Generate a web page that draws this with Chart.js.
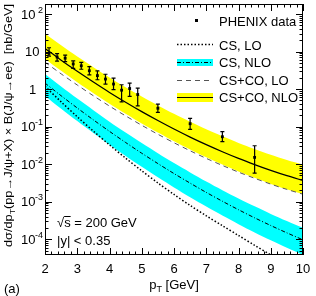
<!DOCTYPE html>
<html>
<head>
<meta charset="utf-8">
<script src="https://cdn.jsdelivr.net/npm/chart.js@4.4.1/dist/chart.umd.min.js"></script>
<style>
  html, body { margin: 0; padding: 0; background: #fff; }
  #wrap { width: 316px; height: 296px; }
</style>
</head>
<body>
<div id="wrap"><canvas id="c" width="316" height="296"></canvas></div>
<script>
// theory curves, sampled on this pT grid
const ptGrid = [2, 2.5, 3, 3.5, 4, 4.5, 5, 5.5, 6, 6.5, 7, 7.5, 8, 8.5, 9, 9.5, 10]
const csLO = [1.19, 0.459, 0.184, 0.0761, 0.0327, 0.0145, 0.00667, 0.00317, 0.00156, 0.000797, 0.000421, 0.00023, 0.000126, 0.0000690, 0.0000385, 0.0000225, 0.0000135]
const csNLO = [1.45, 0.668, 0.315, 0.152, 0.075, 0.0379, 0.0196, 0.0104, 0.00563, 0.00313, 0.00177, 0.00103, 0.000612, 0.000372, 0.000232, 0.000148, 0.0000964]
const csNLOHi = [2.52, 1.17, 0.56, 0.274, 0.136, 0.0698, 0.0366, 0.0196, 0.0107, 0.00603, 0.00346, 0.00203, 0.00122, 0.000752, 0.000473, 0.000305, 0.000201]
const csNLOLo = [0.662, 0.302, 0.141, 0.0678, 0.0331, 0.0166, 0.00852, 0.00448, 0.0024, 0.00132, 0.000744, 0.000429, 0.000252, 0.000152, 0.0000939, 0.0000594, 0.0000384]
const cscoLO = [5.25, 2.56, 1.29, 0.667, 0.354, 0.194, 0.109, 0.0628, 0.0373, 0.0228, 0.0143, 0.00927, 0.00615, 0.00422, 0.00295, 0.00213, 0.00159]
const cscoNLO = [12.2, 5.94, 2.99, 1.55, 0.82, 0.449, 0.252, 0.146, 0.0865, 0.0528, 0.0332, 0.0215, 0.01426, 0.00977, 0.00684, 0.00494, 0.00369]
const cscoNLOHi = [29.9, 14.7, 7.40, 3.85, 2.05, 1.12, 0.634, 0.368, 0.22, 0.135, 0.0851, 0.0553, 0.0369, 0.0254, 0.0178, 0.0129, 0.0097]
const cscoNLOLo = [6.38, 3.08, 1.53, 0.78, 0.409, 0.221, 0.122, 0.0698, 0.0409, 0.0247, 0.0153, 0.00977, 0.0064, 0.00434, 0.00299, 0.00214, 0.00157]

// PHENIX data points
const phenixPt = [2.125, 2.375, 2.625, 2.875, 3.125, 3.375, 3.625, 3.875, 4.125, 4.375, 4.625, 4.875, 5.5, 6.5, 7.5, 8.5]
const phenixY = [9.0, 7.2, 6.7, 4.7, 4.2, 3.1, 2.3, 1.86, 1.37, 0.94, 1.04, 0.72, 0.31, 0.12, 0.054, 0.0152]
const phenixHi = [12.7, 8.9, 8.1, 5.7, 5.2, 4.0, 3.07, 2.5, 1.96, 1.31, 1.45, 1.07, 0.40, 0.167, 0.074, 0.031]
const phenixLo = [7.6, 5.6, 5.4, 3.6, 3.4, 2.4, 1.78, 1.36, 0.97, 0.46, 0.645, 0.36, 0.24, 0.085, 0.040, 0.0058]

// axis ticks
const xTickLabels = [2, 3, 4, 5, 6, 7, 8, 9, 10]
const yDecades = [-4, -3, -2, -1, 0, 1, 2]

const FONT = '"Liberation Sans", Arial, Helvetica, sans-serif'
const YELLOW = "#ffff00"
const CYAN = "#00ffff"

const pts = (ys) => ys.map((v, i) => ({ x: ptGrid[i], y: v }))

function curve(data, extra) {
  return Object.assign({
    data: pts(data),
    pointRadius: 0,
    borderWidth: 0,
    fill: false,
    tension: 0.3
  }, extra)
}

// draw a run of text pieces ({t, s, dy}) starting at x on baseline y
function drawParts(ctx, parts, x, y) {
  parts.forEach((p) => {
    ctx.font = p.s + "px " + FONT
    ctx.fillText(p.t, x, y + (p.dy || 0))
    x += ctx.measureText(p.t).width
  })
  return x
}

function partsWidth(ctx, parts) {
  let w = 0
  parts.forEach((p) => {
    ctx.font = p.s + "px " + FONT
    w += ctx.measureText(p.t).width
  })
  return w
}

const rootStyle = {
  id: "rootStyle",
  afterDatasetsDraw(chart) {
    const { ctx, scales: { x, y } } = chart
    ctx.save()
    ctx.strokeStyle = "#000"
    ctx.lineWidth = 1.2
    phenixPt.forEach((pt, i) => {
      const px = x.getPixelForValue(pt)
      const y1 = y.getPixelForValue(phenixLo[i])
      const y2 = y.getPixelForValue(phenixHi[i])
      ctx.beginPath()
      ctx.moveTo(px, y1); ctx.lineTo(px, y2)
      ctx.moveTo(px - 2, y1); ctx.lineTo(px + 2, y1)
      ctx.moveTo(px - 2, y2); ctx.lineTo(px + 2, y2)
      ctx.stroke()
    })
    ctx.restore()
  },
  afterDraw(chart) {
    const { ctx, chartArea: a, scales: { x, y } } = chart
    ctx.save()
    ctx.strokeStyle = "#000"
    ctx.fillStyle = "#000"
    ctx.lineWidth = 1

    // frame
    ctx.strokeRect(a.left + 0.5, a.top + 0.5, a.right - a.left - 1, a.bottom - a.top - 1)

    // x ticks, inward on bottom and top
    ctx.beginPath()
    for (let v = 2; v <= 10.001; v += 0.2) {
      const px = Math.round(x.getPixelForValue(v)) + 0.5
      const major = Math.abs(v - Math.round(v)) < 0.01
      const len = major ? 7 : 3.5
      ctx.moveTo(px, a.bottom); ctx.lineTo(px, a.bottom - len)
      ctx.moveTo(px, a.top); ctx.lineTo(px, a.top + len)
    }
    // y ticks, log, inward on left and right
    for (let d = -5; d <= 2; d++) {
      for (let m = 1; m <= 9; m++) {
        const val = m * Math.pow(10, d)
        if (val < y.min || val > y.max) continue
        const py = Math.round(y.getPixelForValue(val)) + 0.5
        const len = m === 1 ? 7 : 3.5
        ctx.moveTo(a.left, py); ctx.lineTo(a.left + len, py)
        ctx.moveTo(a.right, py); ctx.lineTo(a.right - len, py)
      }
    }
    ctx.stroke()

    // x tick labels
    ctx.font = "13px " + FONT
    ctx.textAlign = "center"
    ctx.textBaseline = "alphabetic"
    xTickLabels.forEach((v) => {
      ctx.fillText(String(v), x.getPixelForValue(v), 273)
    })

    // y tick labels
    ctx.textAlign = "left"
    yDecades.forEach((d) => {
      const py = y.getPixelForValue(Math.pow(10, d))
      const base = py + 4.5
      ctx.font = "13px " + FONT
      if (d === 0) {
        ctx.fillText("1", 29, base)
      } else if (d === 1) {
        ctx.fillText("10", 25, base)
      } else {
        ctx.fillText("10", 21, base)
        ctx.font = "9px " + FONT
        const e = String(d)
        const ew = ctx.measureText(e).width
        ctx.fillText(e, 43 - ew, base - 6)
      }
    })

    // x axis title
    const xt = [{ t: "p", s: 13 }, { t: "T", s: 9, dy: 2.5 }, { t: " [GeV]", s: 13 }]
    drawParts(ctx, xt, (a.left + a.right) / 2 - partsWidth(ctx, xt) / 2, 289)

    // y axis title, rotated, ending near the top
    ctx.save()
    ctx.translate(12, 4)
    ctx.rotate(-Math.PI / 2)
    const yt = [
      { t: "dσ/dp", s: 11.5 },
      { t: "T", s: 8, dy: 2.5 },
      { t: "(pp→J/ψ+X) × B(J/ψ→ee)  [nb/GeV]", s: 11.5 }
    ]
    const yw = partsWidth(ctx, yt)
    const k = 243 / yw
    ctx.scale(k, 1)
    drawParts(ctx, yt, -yw, 0)
    ctx.restore()

    // panel label
    ctx.font = "13px " + FONT
    ctx.fillText("(a)", 4, 293)

    // energy and rapidity notes
    ctx.fillText("√s = 200 GeV", 57, 227)
    const sx = 57 + ctx.measureText("√").width
    const sw = ctx.measureText("s").width
    ctx.beginPath()
    ctx.moveTo(sx, 216.5); ctx.lineTo(sx + sw, 216.5)
    ctx.stroke()
    ctx.fillText("|y| < 0.35", 57, 245)

    // legend
    const lx0 = 177, lx1 = 213, tx = 219
    ctx.fillRect(195, 19, 3, 3)
    ctx.fillText("PHENIX data", tx, 25.5)

    ctx.lineWidth = 1.5
    ctx.setLineDash([1.5, 2])
    ctx.beginPath(); ctx.moveTo(lx0, 44.5); ctx.lineTo(lx1, 44.5); ctx.stroke()
    ctx.fillText("CS, LO", tx, 49.5)

    ctx.fillStyle = CYAN
    ctx.fillRect(lx0, 59, lx1 - lx0, 7)
    ctx.fillStyle = "#000"
    ctx.lineWidth = 1
    ctx.setLineDash([4, 2, 1, 2])
    ctx.beginPath(); ctx.moveTo(lx0, 62.5); ctx.lineTo(lx1, 62.5); ctx.stroke()
    ctx.fillText("CS, NLO", tx, 67)

    ctx.strokeStyle = "#555"
    ctx.setLineDash([5, 4])
    ctx.beginPath(); ctx.moveTo(lx0, 80.5); ctx.lineTo(lx1, 80.5); ctx.stroke()
    ctx.fillText("CS+CO, LO", tx, 85)

    ctx.fillStyle = YELLOW
    ctx.fillRect(lx0, 93, lx1 - lx0, 9)
    ctx.fillStyle = "#000"
    ctx.strokeStyle = "#000"
    ctx.setLineDash([])
    ctx.lineWidth = 1.2
    ctx.beginPath(); ctx.moveTo(lx0, 97.5); ctx.lineTo(lx1, 97.5); ctx.stroke()
    ctx.fillText("CS+CO, NLO", tx, 102)

    ctx.restore()
  }
}

new Chart(document.getElementById("c"), {
  type: "line",
  data: {
    datasets: [
      {
        data: phenixPt.map((p, i) => ({ x: p, y: phenixY[i] })),
        showLine: false,
        pointStyle: "rect",
        pointRadius: 2,
        backgroundColor: "#000",
        borderColor: "#000",
        borderWidth: 0,
        order: 0
      },
      curve(cscoNLO, { borderColor: "#000", borderWidth: 1.2, order: 1 }),
      curve(cscoLO, { borderColor: "#555", borderWidth: 1, borderDash: [5, 4], order: 2 }),
      curve(csNLO, { borderColor: "#000", borderWidth: 1, borderDash: [4, 2, 1, 2], order: 3 }),
      curve(csLO, { borderColor: "#000", borderWidth: 1.5, borderDash: [1.5, 2], order: 4 }),
      curve(cscoNLOHi, { fill: "+1", backgroundColor: YELLOW, order: 6 }),
      curve(cscoNLOLo, { order: 7 }),
      curve(csNLOHi, { fill: "+1", backgroundColor: CYAN, order: 8 }),
      curve(csNLOLo, { order: 9 })
    ]
  },
  options: {
    responsive: false,
    animation: false,
    layout: { padding: { top: 2, right: 13, left: 0, bottom: 0 } },
    plugins: {
      legend: { display: false },
      tooltip: { enabled: false }
    },
    scales: {
      x: {
        type: "linear",
        min: 2,
        max: 10,
        grid: { display: false },
        border: { display: false },
        ticks: { display: false },
        afterFit: (s) => { s.height = 41 }
      },
      y: {
        type: "logarithmic",
        min: Math.pow(10, -4.42),
        max: Math.pow(10, 2.27),
        grid: { display: false },
        border: { display: false },
        ticks: { display: false },
        afterFit: (s) => { s.width = 45 }
      }
    }
  },
  plugins: [rootStyle]
})
</script>
</body>
</html>
